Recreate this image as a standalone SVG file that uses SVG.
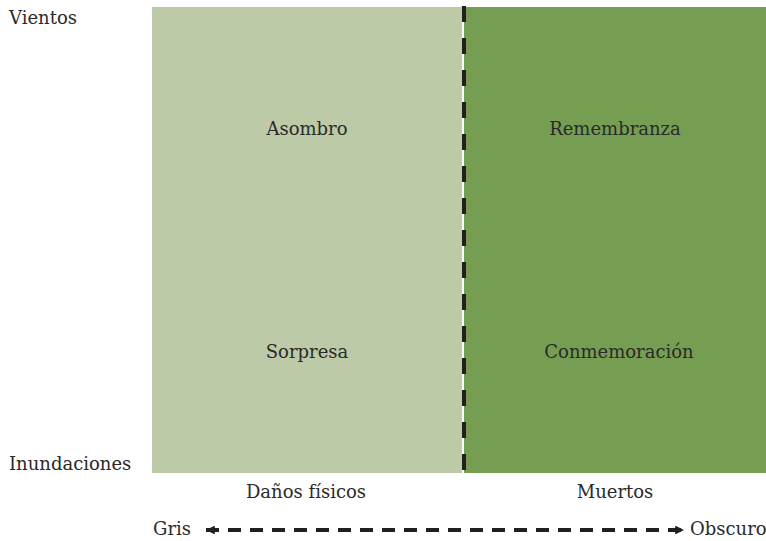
<svg xmlns="http://www.w3.org/2000/svg" width="766" height="541" viewBox="0 0 766 541">
<style>
text{font-family:"DejaVu Serif","Liberation Serif",serif;font-size:18px;fill:#2a2a2a}
.c{text-anchor:middle}
.dash{stroke:#231f20;stroke-width:4;fill:none}
</style>
<defs>
<marker id="ah" viewBox="0 0 10 10" refX="10" refY="5" markerWidth="2.2" markerHeight="2.2" orient="auto-start-reverse" markerUnits="strokeWidth">
<path d="M0,0 L10,5 L0,10 z" fill="#231f20"/>
</marker>
</defs>
<rect width="766" height="541" fill="#fff"/>
<g id="node-danos">
<rect x="152" y="7" width="310" height="466" fill="#bccaa7"/>
<text class="c" x="307" y="135">Asombro</text>
<text class="c" x="307" y="358">Sorpresa</text>
</g>
<g id="node-muertos">
<rect x="464" y="7" width="302" height="466" fill="#769e52"/>
<text class="c" x="615" y="135">Remembranza</text>
<text class="c" x="619" y="358">Conmemoración</text>
</g>
<g id="labels">
<text x="9" y="24">Vientos</text>
<text x="9" y="470">Inundaciones</text>
<text class="c" x="306" y="498">Daños físicos</text>
<text class="c" x="615" y="498">Muertos</text>
<text x="153" y="535">Gris</text>
<text x="690" y="535">Obscuro</text>
</g>
<g id="connectors">
<line class="dash" x1="464" y1="6" x2="464" y2="473" stroke-dasharray="16 16"/>
<line class="dash" x1="206" y1="530" x2="684" y2="530" stroke-dasharray="13 9" marker-start="url(#ah)" marker-end="url(#ah)"/>
</g>
</svg>
